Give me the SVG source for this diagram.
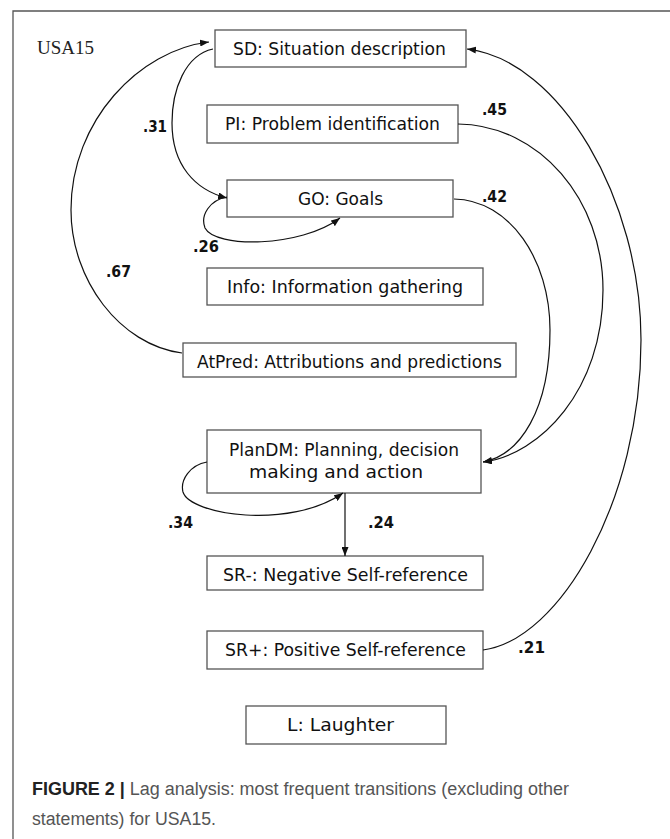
<svg xmlns="http://www.w3.org/2000/svg" width="670" height="839" viewBox="0 0 670 839">
<style>
.box{fill:#fff;stroke:#555;stroke-width:1.3}
.t{font-family:"DejaVu Sans","Verdana",sans-serif;font-size:17.5px;fill:#111}
.lab{font-family:"DejaVu Sans","Verdana",sans-serif;font-size:16px;font-weight:bold;fill:#111}
.c{fill:none;stroke:#111;stroke-width:1.2}
.cap{font-family:"Liberation Sans","Arial",sans-serif;font-size:18px;fill:#555}
</style>
<defs>
<marker id="ah" markerUnits="userSpaceOnUse" markerWidth="9" markerHeight="7" refX="9" refY="3.5" orient="auto">
<path d="M0,0 L9,3.5 L0,7 z" fill="#111"/>
</marker>
</defs>
<rect width="670" height="839" fill="#fff"/>
<path d="M13,839 V11 H670" fill="none" stroke="#555" stroke-width="1.3"/>
<text x="37" y="54" font-family="Liberation Serif,Times New Roman,serif" font-size="18.5" fill="#222" textLength="57" lengthAdjust="spacingAndGlyphs">USA15</text>

<g id="SD"><rect class="box" x="215" y="30" width="251" height="37"/><text class="t" x="233" y="55" textLength="213" lengthAdjust="spacingAndGlyphs">SD: Situation description</text></g>
<g id="PI"><rect class="box" x="207" y="105" width="251" height="38"/><text class="t" x="225" y="130" textLength="215" lengthAdjust="spacingAndGlyphs">PI: Problem identification</text></g>
<g id="GO"><rect class="box" x="227" y="180" width="226" height="37"/><text class="t" x="298" y="205" textLength="85" lengthAdjust="spacingAndGlyphs">GO: Goals</text></g>
<g id="Info"><rect class="box" x="207" y="268" width="276" height="37"/><text class="t" x="227" y="293" textLength="236" lengthAdjust="spacingAndGlyphs">Info: Information gathering</text></g>
<g id="AtPred"><rect class="box" x="183" y="343" width="333" height="34"/><text class="t" x="197" y="368" textLength="305" lengthAdjust="spacingAndGlyphs">AtPred: Attributions and predictions</text></g>
<g id="PlanDM"><rect class="box" x="207" y="430" width="274" height="63"/><text class="t" x="229" y="456" textLength="230" lengthAdjust="spacingAndGlyphs">PlanDM: Planning, decision</text><text class="t" x="249" y="478" textLength="174" lengthAdjust="spacingAndGlyphs">making and action</text></g>
<g id="SRminus"><rect class="box" x="207" y="556" width="276" height="34"/><text class="t" x="223" y="581" textLength="245" lengthAdjust="spacingAndGlyphs">SR-: Negative Self-reference</text></g>
<g id="SRplus"><rect class="box" x="207" y="631" width="276" height="38"/><text class="t" x="225" y="656" textLength="241" lengthAdjust="spacingAndGlyphs">SR+: Positive Self-reference</text></g>
<g id="L"><rect class="box" x="246" y="706" width="200" height="38"/><text class="t" x="287" y="731" textLength="107" lengthAdjust="spacingAndGlyphs">L: Laughter</text></g>

<g id="connectors">
<path class="c" marker-end="url(#ah)" d="M182,353 C120,345 71,280 71,210 C71,120 140,50 209,42"/>
<path class="c" marker-end="url(#ah)" d="M213,49 C185,55 172,90 172,123 C172,165 195,190 227,198"/>
<path class="c" marker-end="url(#ah)" d="M227,197 C210,200 200,215 205,228 C215,248 300,248 340,218"/>
<path class="c" marker-end="url(#ah)" d="M458,124 C540,125 603,200 603,290 C603,390 540,455 483,462"/>
<path class="c" marker-end="url(#ah)" d="M454,199 C510,200 550,260 550,330 C550,410 520,455 483,462"/>
<path class="c" marker-end="url(#ah)" d="M483,650 C560,640 641,500 641,340 C641,200 560,60 467,49"/>
<path class="c" marker-end="url(#ah)" d="M207,462 C190,465 180,480 183,492 C190,515 290,530 343,493"/>
<path class="c" marker-end="url(#ah)" d="M345,493 V556"/>
</g>

<g id="labels">
<text class="lab" x="143" y="132" textLength="24" lengthAdjust="spacingAndGlyphs">.31</text>
<text class="lab" x="482" y="115" textLength="25" lengthAdjust="spacingAndGlyphs">.45</text>
<text class="lab" x="482" y="202" textLength="25" lengthAdjust="spacingAndGlyphs">.42</text>
<text class="lab" x="193" y="252" textLength="26" lengthAdjust="spacingAndGlyphs">.26</text>
<text class="lab" x="106" y="277" textLength="25" lengthAdjust="spacingAndGlyphs">.67</text>
<text class="lab" x="168" y="528" textLength="25" lengthAdjust="spacingAndGlyphs">.34</text>
<text class="lab" x="368" y="528" textLength="26" lengthAdjust="spacingAndGlyphs">.24</text>
<text class="lab" x="518" y="653" textLength="27" lengthAdjust="spacingAndGlyphs">.21</text>
</g>

<text class="cap" x="32" y="795" textLength="537" lengthAdjust="spacingAndGlyphs"><tspan font-weight="bold" fill="#222">FIGURE 2 |</tspan> Lag analysis: most frequent transitions (excluding other</text>
<text class="cap" x="32" y="825" textLength="184" lengthAdjust="spacingAndGlyphs">statements) for USA15.</text>
</svg>
